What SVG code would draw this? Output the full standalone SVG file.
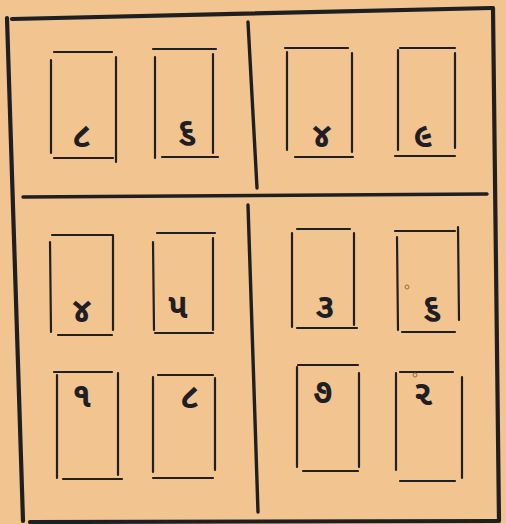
<svg xmlns="http://www.w3.org/2000/svg" width="506" height="524" viewBox="0 0 506 524">
<style>
.frame{stroke:#1f1f22;stroke-width:4.2;stroke-linecap:round;fill:none}
.div{stroke:#1f1f22;stroke-width:3.4;stroke-linecap:round;fill:none}
.box{stroke:#202024;stroke-width:2.2;stroke-linecap:round;fill:none}
.d{font-family:"Noto Sans Gujarati","Noto Serif Gujarati","Lohit Gujarati","Noto Sans",sans-serif;font-size:34px;font-weight:bold;fill:#1e1e24;text-anchor:middle}
.dot{fill:none;stroke:#8a7040;stroke-width:1}
</style>
<rect width="506" height="524" fill="#F2C590"/>
<g id="connectors">
<path class="frame" d="M12 19 L492 8"/>
<path class="frame" d="M7 18 L23 521"/>
<path class="frame" d="M493 8 L499 521"/>
<path class="frame" d="M30 522 L497 521"/>
<path class="div" d="M23 197 L487 194"/>
<path class="div" d="M248 22 L257 188"/>
<path class="div" d="M248 205 L258 512"/>
</g>
<g id="boxA"><path class="box" d="M54 52 H112 M51 60 L51 153 M116 57 L116 162 M54 158 H113"/><text class="d" x="82" y="147">૮</text></g>
<g id="boxB"><path class="box" d="M153 49 H216 M155 57 L155 158 M213 54 L213 153 M162 157 H218"/><text class="d" x="187" y="142">૬</text></g>
<g id="boxC"><path class="box" d="M285 48 H348 M287 52 L287 150 M352 53 L352 152 M295 157 H353"/><text class="d" x="322" y="147">૪</text></g>
<g id="boxD"><path class="box" d="M400 48 H455 M398 50 L398 150 M455 53 L455 148 M395 156 H455"/><text class="d" x="423" y="147">૯</text></g>
<g id="boxE"><path class="box" d="M52 235 H112 M50 242 L51 332 M113 235 L113 330 M58 335 H112"/><text class="d" x="82" y="322">૪</text></g>
<g id="boxF"><path class="box" d="M157 233 H215 M153 242 L154 330 M213 238 L213 330 M155 333 H213"/><text class="d" x="178" y="318">૫</text></g>
<g id="boxG"><path class="box" d="M297 229 H350 M292 233 L292 327 M354 233 L354 325 M297 328 H357"/><text class="d" x="325" y="318">૩</text></g>
<g id="boxH"><path class="box" d="M395 231 H455 M397 237 L398 330 M458 227 L459 320 M402 332 H455"/><circle class="dot" cx="407" cy="287" r="2"/><text class="d" x="432" y="318">૬</text></g>
<g id="boxI"><path class="box" d="M54 372 H112 M57 375 L57 478 M118 373 L118 475 M63 479 H122"/><text class="d" x="82" y="407">૧</text></g>
<g id="boxJ"><path class="box" d="M158 375 H213 M153 377 L153 472 M215 378 L215 470 M153 478 H213"/><text class="d" x="190" y="408">૮</text></g>
<g id="boxK"><path class="box" d="M298 365 H358 M297 367 L297 467 M359 373 L359 467 M303 471 H358"/><text class="d" x="323" y="403">૭</text></g>
<g id="boxL"><path class="box" d="M400 372 H453 M396 373 L396 470 M462 377 L462 478 M400 481 H455"/><circle class="dot" cx="415" cy="375" r="2"/><text class="d" x="423" y="405">૨</text></g>
</svg>
